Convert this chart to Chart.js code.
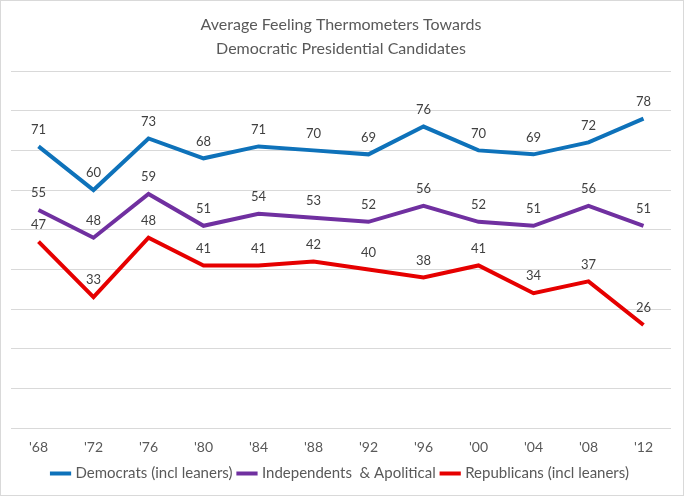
<!DOCTYPE html>
<html>
<head>
<meta charset="utf-8">
<script src="https://cdn.jsdelivr.net/npm/chart.js@4/dist/chart.umd.min.js"></script>
<style>
  html, body { margin: 0; padding: 0; background: #fff; }
  #wrap { width: 684px; height: 496px; box-sizing: border-box; border: 1px solid #d9d9d9; }
</style>
</head>
<body>
<div id="wrap"><canvas id="chart"></canvas></div>
<script>
const years = ["'68", "'72", "'76", "'80", "'84", "'88", "'92", "'96", "'00", "'04", "'08", "'12"];
const democrats = [71, 60, 73, 68, 71, 70, 69, 76, 70, 69, 72, 78];
const independents = [55, 48, 59, 51, 54, 53, 52, 56, 52, 51, 56, 51];
const republicans = [47, 33, 48, 41, 41, 42, 40, 38, 41, 34, 37, 26];

const FONT = "Lato, 'Open Sans', sans-serif";

// value labels above each point
const pointLabels = {
  id: 'pointLabels',
  afterDatasetsDraw(chart) {
    const ctx = chart.ctx;
    ctx.save();
    ctx.font = `13px ${FONT}`;
    ctx.fillStyle = '#404040';
    ctx.textAlign = 'center';
    ctx.textBaseline = 'middle';
    chart.data.datasets.forEach((ds, i) => {
      chart.getDatasetMeta(i).data.forEach((pt, j) => {
        ctx.fillText(ds.data[j], pt.x, pt.y - 17);
      });
    });
    ctx.restore();
  }
};

new Chart(document.getElementById('chart').getContext('2d'), {
  type: 'line',
  data: {
    labels: years,
    datasets: [
      { label: 'Democrats (incl leaners)', data: democrats, borderColor: '#0E72BA', backgroundColor: '#0E72BA' },
      { label: 'Independents  & Apolitical', data: independents, borderColor: '#7030A0', backgroundColor: '#7030A0' },
      { label: 'Republicans (incl leaners)', data: republicans, borderColor: '#E60000', backgroundColor: '#E60000' }
    ].map(d => Object.assign(d, { borderWidth: 4, pointRadius: 0, tension: 0, fill: false }))
  },
  options: {
    responsive: true,
    maintainAspectRatio: false,
    animation: false,
    layout: { padding: { left: 10, right: 12, top: 8, bottom: 4 } },
    plugins: {
      title: {
        display: true,
        text: ['Average Feeling Thermometers Towards', 'Democratic Presidential Candidates'],
        color: '#595959',
        font: { family: FONT, size: 16, weight: 'normal', lineHeight: 1.5 },
        padding: { top: 4, bottom: 10 }
      },
      legend: {
        position: 'bottom',
        labels: {
          usePointStyle: true,
          pointStyle: 'line',
          boxWidth: 24,
          color: '#595959',
          font: { family: FONT, size: 15 },
          padding: 7
        }
      },
      tooltip: { enabled: false }
    },
    scales: {
      x: {
        offset: true,
        grid: { display: false },
        border: { display: false },
        ticks: { color: '#595959', font: { family: FONT, size: 14 }, padding: 3 }
      },
      y: {
        min: 0,
        max: 90,
        ticks: { display: false, stepSize: 10 },
        grid: { color: '#d9d9d9', drawTicks: false },
        border: { display: false }
      }
    }
  },
  plugins: [pointLabels]
});
</script>
</body>
</html>
